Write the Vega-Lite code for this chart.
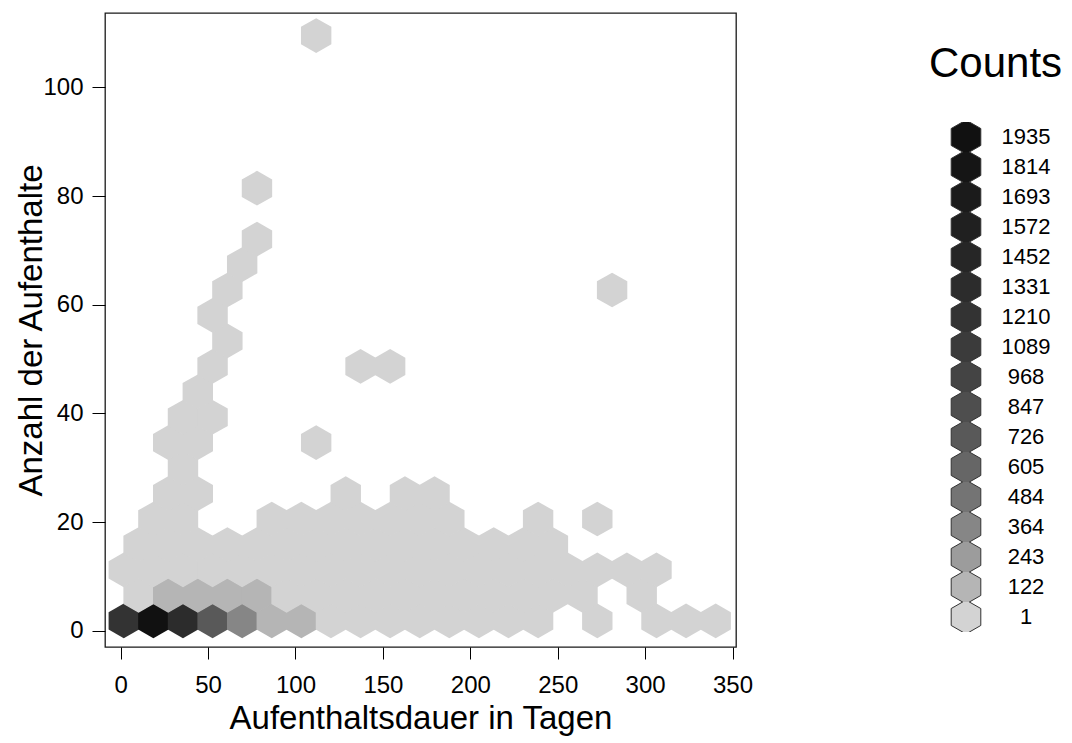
{
  "$schema": "https://vega.github.io/schema/vega-lite/v6.json",
  "autosize": {"type": "none"},
  "padding": {"left": 105, "top": 13, "right": 336, "bottom": 96},
  "width": 631,
  "height": 634,
  "background": "white",
  "config": {
    "font": "Liberation Sans",
    "view": {"stroke": "#1a1a1a", "strokeWidth": 1.3}
  },
  "data": {
    "values": [
      {"x": 1.77, "y": 1.82, "level": "1210"},
      {"x": 18.70, "y": 1.82, "level": "1935"},
      {"x": 35.63, "y": 1.82, "level": "1331"},
      {"x": 52.56, "y": 1.82, "level": "726"},
      {"x": 69.49, "y": 1.82, "level": "364"},
      {"x": 86.42, "y": 1.82, "level": "122"},
      {"x": 103.35, "y": 1.82, "level": "122"},
      {"x": 120.28, "y": 1.82, "level": "1"},
      {"x": 137.21, "y": 1.82, "level": "1"},
      {"x": 154.14, "y": 1.82, "level": "1"},
      {"x": 171.07, "y": 1.82, "level": "1"},
      {"x": 188.00, "y": 1.82, "level": "1"},
      {"x": 204.93, "y": 1.82, "level": "1"},
      {"x": 221.86, "y": 1.82, "level": "1"},
      {"x": 238.79, "y": 1.82, "level": "1"},
      {"x": 272.65, "y": 1.82, "level": "1"},
      {"x": 306.51, "y": 1.82, "level": "1"},
      {"x": 323.44, "y": 1.82, "level": "1"},
      {"x": 340.37, "y": 1.82, "level": "1"},

      {"x": 10.24, "y": 6.50, "level": "1"},
      {"x": 27.17, "y": 6.50, "level": "122"},
      {"x": 44.10, "y": 6.50, "level": "122"},
      {"x": 61.03, "y": 6.50, "level": "122"},
      {"x": 77.96, "y": 6.50, "level": "122"},
      {"x": 94.89, "y": 6.50, "level": "1"},
      {"x": 111.82, "y": 6.50, "level": "1"},
      {"x": 128.75, "y": 6.50, "level": "1"},
      {"x": 145.68, "y": 6.50, "level": "1"},
      {"x": 162.61, "y": 6.50, "level": "1"},
      {"x": 179.54, "y": 6.50, "level": "1"},
      {"x": 196.47, "y": 6.50, "level": "1"},
      {"x": 213.40, "y": 6.50, "level": "1"},
      {"x": 230.33, "y": 6.50, "level": "1"},
      {"x": 247.26, "y": 6.50, "level": "1"},
      {"x": 264.19, "y": 6.50, "level": "1"},
      {"x": 298.05, "y": 6.50, "level": "1"},

      {"x": 1.77, "y": 11.19, "level": "1"},
      {"x": 18.70, "y": 11.19, "level": "1"},
      {"x": 35.63, "y": 11.19, "level": "1"},
      {"x": 52.56, "y": 11.19, "level": "1"},
      {"x": 69.49, "y": 11.19, "level": "1"},
      {"x": 86.42, "y": 11.19, "level": "1"},
      {"x": 103.35, "y": 11.19, "level": "1"},
      {"x": 120.28, "y": 11.19, "level": "1"},
      {"x": 137.21, "y": 11.19, "level": "1"},
      {"x": 154.14, "y": 11.19, "level": "1"},
      {"x": 171.07, "y": 11.19, "level": "1"},
      {"x": 188.00, "y": 11.19, "level": "1"},
      {"x": 204.93, "y": 11.19, "level": "1"},
      {"x": 221.86, "y": 11.19, "level": "1"},
      {"x": 238.79, "y": 11.19, "level": "1"},
      {"x": 255.72, "y": 11.19, "level": "1"},
      {"x": 272.65, "y": 11.19, "level": "1"},
      {"x": 289.58, "y": 11.19, "level": "1"},
      {"x": 306.51, "y": 11.19, "level": "1"},

      {"x": 10.24, "y": 15.87, "level": "1"},
      {"x": 27.17, "y": 15.87, "level": "1"},
      {"x": 44.10, "y": 15.87, "level": "1"},
      {"x": 61.03, "y": 15.87, "level": "1"},
      {"x": 77.96, "y": 15.87, "level": "1"},
      {"x": 94.89, "y": 15.87, "level": "1"},
      {"x": 111.82, "y": 15.87, "level": "1"},
      {"x": 128.75, "y": 15.87, "level": "1"},
      {"x": 145.68, "y": 15.87, "level": "1"},
      {"x": 162.61, "y": 15.87, "level": "1"},
      {"x": 179.54, "y": 15.87, "level": "1"},
      {"x": 196.47, "y": 15.87, "level": "1"},
      {"x": 213.40, "y": 15.87, "level": "1"},
      {"x": 230.33, "y": 15.87, "level": "1"},
      {"x": 247.26, "y": 15.87, "level": "1"},

      {"x": 18.70, "y": 20.56, "level": "1"},
      {"x": 35.63, "y": 20.56, "level": "1"},
      {"x": 86.42, "y": 20.56, "level": "1"},
      {"x": 103.35, "y": 20.56, "level": "1"},
      {"x": 120.28, "y": 20.56, "level": "1"},
      {"x": 137.21, "y": 20.56, "level": "1"},
      {"x": 154.14, "y": 20.56, "level": "1"},
      {"x": 171.07, "y": 20.56, "level": "1"},
      {"x": 188.00, "y": 20.56, "level": "1"},
      {"x": 238.79, "y": 20.56, "level": "1"},
      {"x": 272.65, "y": 20.56, "level": "1"},

      {"x": 27.17, "y": 25.24, "level": "1"},
      {"x": 44.10, "y": 25.24, "level": "1"},
      {"x": 128.75, "y": 25.24, "level": "1"},
      {"x": 162.61, "y": 25.24, "level": "1"},
      {"x": 179.54, "y": 25.24, "level": "1"},

      {"x": 35.63, "y": 29.92, "level": "1"},

      {"x": 27.17, "y": 34.61, "level": "1"},
      {"x": 44.10, "y": 34.61, "level": "1"},
      {"x": 111.82, "y": 34.61, "level": "1"},

      {"x": 35.63, "y": 39.29, "level": "1"},
      {"x": 52.56, "y": 39.29, "level": "1"},

      {"x": 44.10, "y": 43.98, "level": "1"},

      {"x": 52.56, "y": 48.66, "level": "1"},
      {"x": 137.21, "y": 48.66, "level": "1"},
      {"x": 154.14, "y": 48.66, "level": "1"},

      {"x": 61.03, "y": 53.34, "level": "1"},

      {"x": 52.56, "y": 58.03, "level": "1"},

      {"x": 61.03, "y": 62.71, "level": "1"},
      {"x": 281.12, "y": 62.71, "level": "1"},

      {"x": 69.49, "y": 67.40, "level": "1"},

      {"x": 77.96, "y": 72.08, "level": "1"},

      {"x": 77.96, "y": 81.45, "level": "1"},

      {"x": 111.82, "y": 109.55, "level": "1"}
    ]
  },
  "mark": {
    "type": "point",
    "shape": "M0,-1L0.876,-0.5L0.876,0.5L0,1L-0.876,0.5L-0.876,-0.5Z",
    "size": 1204,
    "filled": true,
    "opacity": 1,
    "strokeWidth": 0
  },
  "encoding": {
    "x": {
      "field": "x",
      "type": "quantitative",
      "scale": {"domain": [-8.98, 352.0], "nice": false, "zero": false},
      "axis": {
        "values": [0, 50, 100, 150, 200, 250, 300, 350],
        "domain": false,
        "grid": false,
        "tickSize": 12,
        "tickWidth": 1,
        "tickColor": "#000",
        "labelFontSize": 24,
        "labelColor": "#000",
        "labelPadding": 14,
        "labelFlush": false,
        "title": "Aufenthaltsdauer in Tagen",
        "titleFontSize": 33,
        "titleFontWeight": "normal",
        "titleColor": "#000",
        "titlePadding": 5
      }
    },
    "y": {
      "field": "y",
      "type": "quantitative",
      "scale": {"domain": [-3.0, 113.7], "nice": false, "zero": false},
      "axis": {
        "values": [0, 20, 40, 60, 80, 100],
        "domain": false,
        "grid": false,
        "tickSize": 13,
        "tickWidth": 1,
        "tickColor": "#000",
        "labelFontSize": 24,
        "labelColor": "#000",
        "labelPadding": 9,
        "labelFlush": false,
        "title": "Anzahl der Aufenthalte",
        "titleFontSize": 33,
        "titleFontWeight": "normal",
        "titleColor": "#000",
        "titlePadding": -6
      }
    },
    "color": {
      "field": "level",
      "type": "nominal",
      "scale": {
        "domain": ["1935", "1814", "1693", "1572", "1452", "1331", "1210", "1089", "968", "847", "726", "605", "484", "364", "243", "122", "1"],
        "range": ["#111111", "#151515", "#1b1b1b", "#202020", "#262626", "#2c2c2c", "#333333", "#3b3b3b", "#444444", "#4e4e4e", "#595959", "#666666", "#747474", "#868686", "#9c9c9c", "#b5b5b5", "#d3d3d3"]
      },
      "legend": {
        "orient": "none",
        "legendX": 824,
        "legendY": 31,
        "title": "Counts",
        "titleFontSize": 42,
        "titleFontWeight": "normal",
        "titleColor": "#000",
        "titleAnchor": "start",
        "titleBaseline": "top",
        "titlePadding": 36,
        "symbolType": "M0,-1.169L1.021,-0.5845L1.021,0.5845L0,1.169L-1.021,0.5845L-1.021,-0.5845Z",
        "symbolSize": 841,
        "symbolStrokeColor": "#333333",
        "symbolStrokeWidth": 1,
        "symbolOffset": 22,
        "symbolOpacity": 1,
        "labelFontSize": 22,
        "labelColor": "#000",
        "labelAlign": "center",
        "labelOffset": 45,
        "clipHeight": 30,
        "rowPadding": 0
      }
    }
  }
}
